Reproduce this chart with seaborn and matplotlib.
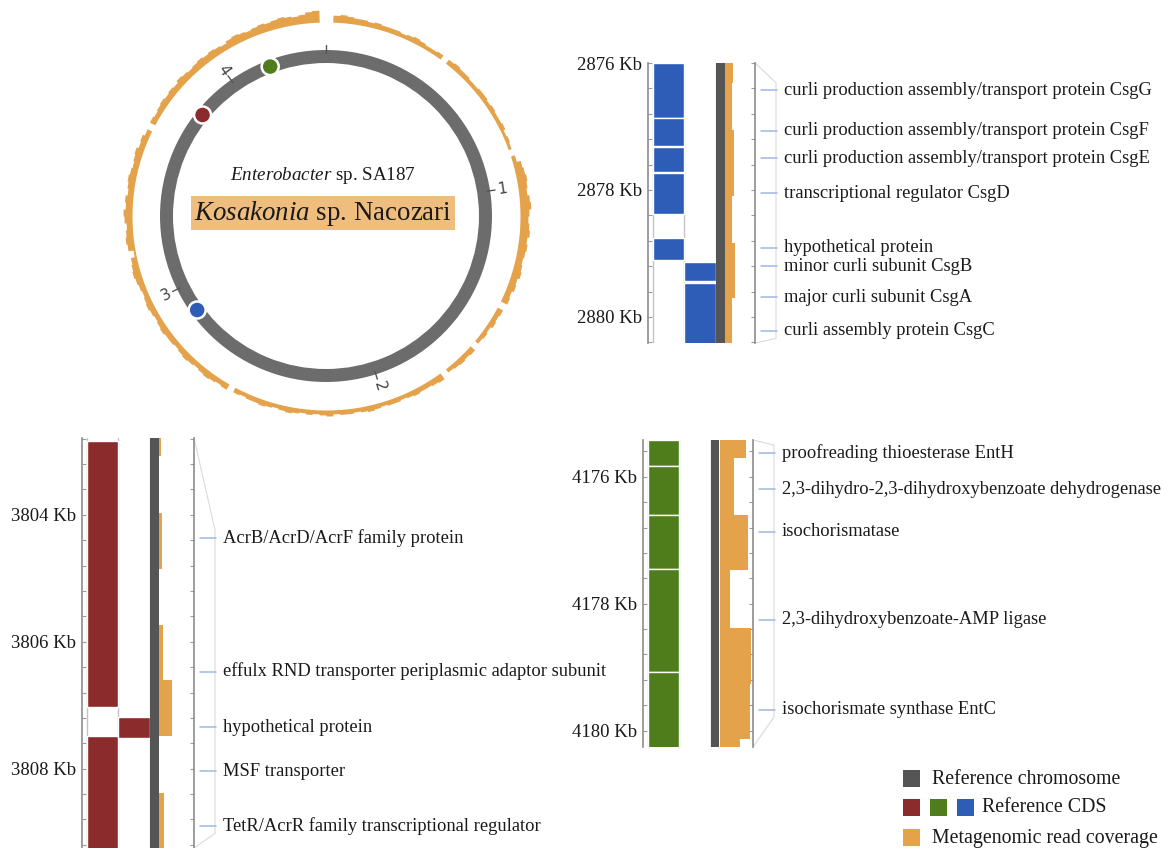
import numpy as np
import matplotlib
matplotlib.use("Agg")
import matplotlib.pyplot as plt
from matplotlib.patches import Rectangle
from matplotlib.ticker import MultipleLocator, FuncFormatter
import seaborn as sns

# ---------------------------------------------------------------- data
GENOME_MB = 4.43
ring_tick_mb = [0, 1, 2, 3, 4]
ring_tick_labels = ["", "1", "2", "3", "4"]
locus_mb = [2.878, 3.806, 4.178]          # csg, acr, ent loci

# metagenomic read depth around the chromosome, 2-degree bins clockwise from 0
coverage_ring = [
    0, 7, 8, 7, 6, 6, 5, 6, 5, 5,
    5, 4, 5, 6, 5, 4, 4, 5, 0, 5,
    6, 5, 5, 4, 4, 5, 5, 4, 5, 4,
    4, 5, 3, 4, 3, 0, 4, 8, 9, 10,
    9, 8, 10, 11, 9, 8, 9, 10, 8, 9,
    8, 7, 8, 9, 7, 8, 6, 7, 0, 6,
    5, 6, 4, 5, 4, 0, 6, 5, 6, 5,
    4, 0, 7, 6, 5, 5, 6, 5, 4, 5,
    5, 4, 5, 6, 5, 4, 5, 5, 4, 6,
    5, 4, 5, 4, 5, 6, 5, 4, 5, 6,
    5, 5, 4, 5, 0, 6, 5, 6, 7, 6,
    5, 6, 7, 6, 5, 6, 6, 7, 6, 5,
    6, 7, 6, 5, 6, 7, 8, 7, 6, 2,
    7, 8, 7, 6, 8, 9, 7, 8, 6, 7,
    8, 7, 6, 7, 8, 6, 7, 5, 0, 6,
    5, 6, 7, 6, 7, 6, 8, 7, 6, 7,
    8, 7, 8, 7, 6, 8, 9, 8, 7, 8,
    9, 8, 9, 10, 9, 8, 9, 11, 12, 0,
]

# curli (csg) locus, kb
csg_plus_start = [2876.0, 2876.873, 2877.323, 2877.73, 2878.76]
csg_plus_end = [2876.862, 2877.312, 2877.72, 2878.38, 2879.095]
csg_minus_start = [2879.13, 2879.47]
csg_minus_end = [2879.44, 2880.5]
csg_cov_start = [2876.0, 2876.31, 2877.06, 2878.09, 2878.83, 2879.70]
csg_cov_end = [2876.31, 2877.06, 2878.09, 2878.83, 2879.70, 2880.5]
csg_cov_depth = [8.3, 6.7, 9.3, 6.7, 10.0, 6.7]
csg_labels = [
    "curli production assembly/transport protein CsgG",
    "curli production assembly/transport protein CsgF",
    "curli production assembly/transport protein CsgE",
    "transcriptional regulator CsgD",
    "hypothetical protein",
    "minor curli subunit CsgB",
    "major curli subunit CsgA",
    "curli assembly protein CsgC",
]
csg_label_kb = [2876.43, 2877.07, 2877.50, 2878.05, 2878.91, 2879.20, 2879.69, 2880.22]

# efflux (acr) locus, kb
acr_plus_start = [3802.845, 3807.48]
acr_plus_end = [3807.03, 3809.6]
acr_minus_start = [3807.18]
acr_minus_end = [3807.52]
acr_cov_start = [3802.79, 3803.97, 3805.73, 3806.60, 3808.38]
acr_cov_end = [3803.08, 3804.86, 3806.60, 3807.49, 3809.6]
acr_cov_depth = [1.7, 3.3, 3.7, 13.3, 4.7]
acr_labels = [
    "AcrB/AcrD/AcrF family protein",
    "effulx RND transporter periplasmic adaptor subunit",
    "hypothetical protein",
    "MSF transporter",
    "TetR/AcrR family transcriptional regulator",
]
acr_label_kb = [3804.36, 3806.47, 3807.35, 3808.04, 3808.90]

# enterobactin (ent) locus, kb
ent_plus_start = [4175.42, 4175.83, 4176.60, 4177.45, 4179.08]
ent_plus_end = [4175.83, 4176.60, 4177.45, 4179.08, 4180.4]
ent_minus_start = []
ent_minus_end = []
ent_cov_start = [4175.42, 4175.71, 4176.60, 4177.47, 4178.38, 4179.26, 4180.13]
ent_cov_end = [4175.71, 4176.60, 4177.47, 4178.38, 4179.26, 4180.13, 4180.4]
ent_cov_depth = [25.7, 14.0, 28.0, 10.0, 30.7, 29.7, 20.0]
ent_labels = [
    "proofreading thioesterase EntH",
    "2,3-dihydro-2,3-dihydroxybenzoate dehydrogenase",
    "isochorismatase",
    "2,3-dihydroxybenzoate-AMP ligase",
    "isochorismate synthase EntC",
]
ent_label_kb = [4175.62, 4176.20, 4176.87, 4178.25, 4179.67]

# ---------------------------------------------------------------- style
sns.set_theme(style="white")
plt.rcParams["font.family"] = ["Liberation Serif", "DejaVu Serif"]
plt.rcParams["mathtext.fontset"] = "custom"
plt.rcParams["mathtext.rm"] = "Liberation Serif"
plt.rcParams["mathtext.it"] = "Liberation Serif:italic"

CHROM_GRAY = "#6c6c6c"
CHROM_DARK = "#555555"
ORANGE = "#E4A24B"
RED = "#8C2B2C"
GREEN = "#4F7D1C"
BLUE = "#2E5DB8"
TEXT = "#1a1a1a"
LABEL_LINE = "#9db8e6"

W, H = 1171, 848
fig = plt.figure(figsize=(W / 100, H / 100), dpi=100)


def px_rect(x0, y0, x1, y1):
    return [x0 / W, 1 - y1 / H, (x1 - x0) / W, (y1 - y0) / H]


# ---------------------------------------------------------------- circular genome
cx, cy, R = 326, 216, 210
pax = fig.add_axes(px_rect(cx - R, cy - R, cx + R, cy + R), projection="polar")
pax.set_theta_zero_location("N")
pax.set_theta_direction(-1)
pax.set_ylim(0, R)
pax.set_axis_off()

# coverage track as a stepped band outside the chromosome
depth = np.asarray(coverage_ring, float)
n_bins = len(depth)
edges = np.linspace(0, 2 * np.pi, n_bins + 1)
step_theta = np.repeat(edges, 2)[1:-1]
step_depth = np.repeat(depth, 2)
COV_R0 = 194
pax.fill_between(step_theta, COV_R0, COV_R0 + step_depth, color=ORANGE,
                 linewidth=0)

# chromosome ring
pax.bar(np.pi, 13, width=2 * np.pi, bottom=153, color=CHROM_GRAY, linewidth=0)

for mb, lab in zip(ring_tick_mb, ring_tick_labels):
    th = 2 * np.pi * mb / GENOME_MB
    pax.plot([th, th], [163, 171], color="#555555", lw=1.0)
    if lab:
        deg = np.degrees(th)
        rot = 90 - deg
        if rot < -90:
            rot += 180
        pax.text(th, 178, lab, rotation=rot, ha="center", va="center",
                 fontsize=11, color="#444444", family="DejaVu Sans",
                 rotation_mode="anchor")

locus_theta = [2 * np.pi * m / GENOME_MB for m in locus_mb]
pax.scatter(locus_theta, [159.5] * 3, s=150, c=[BLUE, RED, GREEN],
            edgecolors="white", linewidths=1.8, zorder=5)

fig.text(323 / W, 1 - 176 / H, r"$\mathit{Enterobacter}$ sp. SA187",
         ha="center", va="center", fontsize=13.7, color=TEXT)
fig.text(323 / W, 1 - 213 / H, r"$\mathit{Kosakonia}$ sp. Nacozari",
         ha="center", va="center", fontsize=19.4, color=TEXT,
         bbox=dict(boxstyle="square,pad=0.1", fc="#EFBE7E", ec="none"))

# ---------------------------------------------------------------- locus panels
COL1 = (4.5, 35.5)
COL2 = (35.5, 68.0)
CHROM = (68.0, 76.5)
COV_BASE = 77.0


def draw_locus(rect, ylim, color, plus, minus, cov, labels, label_kb):
    x0, y0, x1, y1 = rect
    width = x1 - x0
    ax = fig.add_axes(px_rect(x0, y0, x1, y1))
    ax.set_facecolor("none")
    ax.set_xlim(0, width)
    ax.set_ylim(ylim[1], ylim[0])

    for (starts, ends), (a, b) in ((plus, COL1), (minus, COL2)):
        starts = np.asarray(starts, float)
        ends = np.asarray(ends, float)
        if len(starts):
            ax.barh((starts + ends) / 2, b - a, left=a, height=ends - starts,
                    color=color, edgecolor="white", linewidth=1.0, zorder=2)
    ax.axvspan(*CHROM, color=CHROM_DARK, lw=0, zorder=3)

    cs, ce, cd = (np.asarray(v, float) for v in cov)
    ax.barh((cs + ce) / 2, cd, left=COV_BASE, height=ce - cs,
            color=ORANGE, linewidth=0, zorder=2)

    for xv in (COL1[0], COL2[0], COL2[1]):
        ax.axvline(xv, color="#c4c4c4", lw=1.0, zorder=1)

    for side in ("top", "bottom"):
        ax.spines[side].set_visible(False)
    for side in ("left", "right"):
        ax.spines[side].set_visible(True)
        ax.spines[side].set_color("#8c8c8c")
        ax.spines[side].set_linewidth(1.2)

    ax.yaxis.set_major_locator(MultipleLocator(2))
    ax.yaxis.set_minor_locator(MultipleLocator(0.4))
    ax.yaxis.set_major_formatter(FuncFormatter(lambda v, p: f"{v:.0f} Kb"))
    ax.tick_params(axis="y", which="both", left=True, right=True,
                   labelright=False, direction="out", length=3,
                   width=0.8, color="#9a9a9a")
    ax.tick_params(axis="y", which="both", left=True, direction="in")
    ax.tick_params(axis="y", which="major", labelsize=13.5,
                   labelcolor=TEXT, pad=4)
    ax.set_xticks([])

    # bracket linking the track to its gene labels
    top, bot = ylim
    ax.plot([width, width + 21, width + 21, width],
            [top, label_kb[0] - 0.12, label_kb[-1] + 0.12, bot],
            color="#dadada", lw=0.8, clip_on=False, zorder=0)

    for lab, kb in zip(labels, label_kb):
        ax.plot([width + 6, width + 22], [kb, kb], color=LABEL_LINE,
                lw=1.1, clip_on=False)
        ax.text(width + 29, kb, lab, ha="left", va="center",
                fontsize=13.3, color=TEXT, clip_on=False)
    return ax


draw_locus((648, 63, 755, 343), (2876.0, 2880.41), BLUE,
           (csg_plus_start, csg_plus_end), (csg_minus_start, csg_minus_end),
           (csg_cov_start, csg_cov_end, csg_cov_depth),
           csg_labels, csg_label_kb)

draw_locus((82, 438, 194, 848), (3802.79, 3809.25), RED,
           (acr_plus_start, acr_plus_end), (acr_minus_start, acr_minus_end),
           (acr_cov_start, acr_cov_end, acr_cov_depth),
           acr_labels, acr_label_kb)

draw_locus((643, 440, 753, 747), (4175.42, 4180.26), GREEN,
           (ent_plus_start, ent_plus_end), (ent_minus_start, ent_minus_end),
           (ent_cov_start, ent_cov_end, ent_cov_depth),
           ent_labels, ent_label_kb)

# ---------------------------------------------------------------- legend
def swatch(x, y, color, size=17):
    fig.add_artist(Rectangle((x / W, 1 - (y + size) / H), size / W, size / H,
                             transform=fig.transFigure, color=color, lw=0))


swatch(903, 770, CHROM_DARK)
swatch(903, 799, RED)
swatch(930, 799, GREEN)
swatch(957, 799, BLUE)
swatch(903, 829, ORANGE)
fig.text(932 / W, 1 - 779 / H, "Reference chromosome", ha="left",
         va="center", fontsize=14.3, color=TEXT)
fig.text(982 / W, 1 - 808 / H, "Reference CDS", ha="left",
         va="center", fontsize=14.3, color=TEXT)
fig.text(932 / W, 1 - 838 / H, "Metagenomic read coverage", ha="left",
         va="center", fontsize=14.3, color=TEXT)

fig.savefig("out.png", dpi=100)
